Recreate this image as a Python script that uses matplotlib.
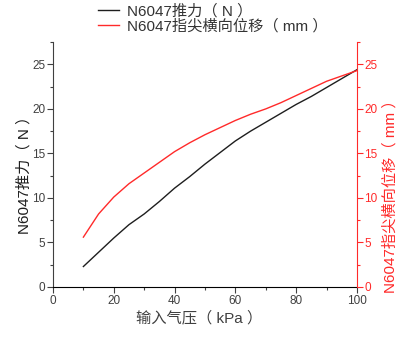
import matplotlib
matplotlib.use("Agg")
import matplotlib.pyplot as plt
from matplotlib.ticker import MultipleLocator

plt.rcParams['font.family'] = ['Liberation Sans', 'Noto Sans CJK SC', 'DejaVu Sans']

# Input pressure (kPa)
pressure = [10, 15, 20, 25, 30, 35, 40, 45, 50, 55, 60, 65, 70, 75, 80, 85, 90, 95, 100]
# Output force (N)
force = [2.3, 3.9, 5.5, 7.0, 8.2, 9.6, 11.1, 12.4, 13.8, 15.1, 16.4, 17.5, 18.5,
         19.5, 20.5, 21.4, 22.4, 23.4, 24.4]
# Fingertip lateral displacement (mm)
displacement = [5.6, 8.2, 10.1, 11.6, 12.8, 14.0, 15.2, 16.2, 17.1, 17.9, 18.7, 19.4,
                20.0, 20.7, 21.5, 22.3, 23.1, 23.7, 24.3]

force_label = "N6047推力（ N ）"
disp_label = "N6047指尖横向位移（ mm ）"
x_label = "输入气压（ kPa ）"

BLACK = "#1e1e1e"
RED = "#ff2a2a"
GREY = "#404040"

fig = plt.figure(figsize=(3.97, 3.37), dpi=100)
ax = fig.add_axes([0.1335, 0.1484, 0.7655, 0.7266])
ax2 = ax.twinx()

l1, = ax.plot(pressure, force, color=BLACK, lw=1.0, label=force_label)
l2, = ax2.plot(pressure, displacement, color=RED, lw=1.0, label=disp_label)

for a in (ax, ax2):
    a.set_xlim(0, 100)
    a.set_ylim(0, 27.5)
    a.yaxis.set_major_locator(MultipleLocator(5))
    a.yaxis.set_minor_locator(MultipleLocator(2.5))
    a.spines['top'].set_visible(False)

ax.xaxis.set_major_locator(MultipleLocator(20))
ax.xaxis.set_minor_locator(MultipleLocator(10))

ax.spines['left'].set_color(GREY)
ax.spines['bottom'].set_color('black')
ax.spines['right'].set_visible(False)
ax2.spines['left'].set_visible(False)
ax2.spines['bottom'].set_visible(False)
ax2.spines['right'].set_color(RED)

ax.tick_params(axis='both', which='major', direction='out', length=4, width=0.8,
               labelsize=8.5, labelcolor=GREY, color=GREY, pad=1.5)
ax.tick_params(axis='both', which='minor', direction='out', length=2.5, width=0.8, color=GREY)
ax2.tick_params(axis='y', which='major', direction='out', length=4, width=0.8,
                labelsize=8.5, labelcolor=RED, color=RED, pad=1.5)
ax2.tick_params(axis='y', which='minor', direction='out', length=2.5, width=0.8, color=RED)

ax.set_xlabel(x_label, fontsize=11, color=GREY)
ax.set_ylabel(force_label, fontsize=11, color=BLACK)
ax2.set_ylabel(disp_label, fontsize=11, color=RED)
ax.xaxis.set_label_coords(0.48, -0.095)
ax.yaxis.set_label_coords(-0.072, 0.473)
ax2.yaxis.set_label_coords(1.086, 0.385)

fig.legend(handles=[l1, l2], loc='upper left', bbox_to_anchor=(0.22, 1.02),
           frameon=False, fontsize=11, handlelength=1.4, handletextpad=0.5,
           labelspacing=0.05, borderpad=0.2, labelcolor="#333333")

fig.savefig("out.png", dpi=100)
